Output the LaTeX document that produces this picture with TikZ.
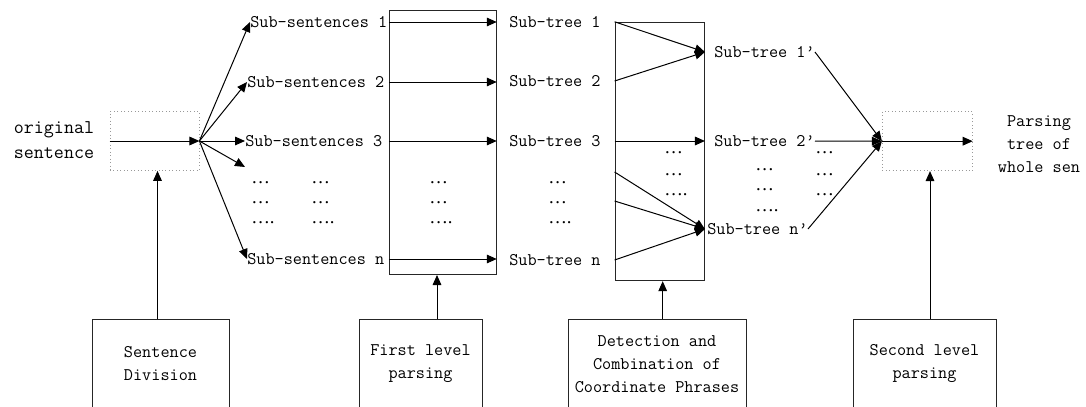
\documentclass[tikz,border=0pt]{standalone}
\usepackage{fontspec}
\newfontfamily\dotfont{Liberation Serif}
\usetikzlibrary{arrows.meta}
\begin{document}
\begin{tikzpicture}[x=0.75pt, y=-0.75pt,
  every node/.style={font=\ttfamily\fontsize{13.3}{17.25}\selectfont},
  lab/.style={inner sep=0pt, text height=8pt, text depth=0pt, anchor=west},
  dots/.style={inner sep=0pt, font=\dotfont\fontsize{14}{17}\selectfont, anchor=base west},
  arr/.style={-{Triangle[length=7.5pt,width=6.5pt]}, line width=0.75pt},
  dotbox/.style={draw=gray!80, dotted, line width=0.6pt, inner sep=0pt, minimum height=44.25pt},
  tallbox/.style={draw=black!85, line width=0.75pt, inner sep=0pt},
  stepbox/.style={draw=black!85, line width=0.75pt, align=center, minimum height=67.5pt, inner sep=2pt}]
\path[use as bounding box, clip] (0,0) rectangle (1086,407);

% left part
\node[align=center, font=\ttfamily\fontsize{14.6}{18.75}\selectfont, inner sep=0pt] (orig) at (54,140.5) {original\\sentence};
\node[dotbox, minimum width=66.75pt] (d1) at (154.5,141) {};
\draw[arr] (d1.west) -- (d1.east);

\node[lab] (ss1) at (250,22) {Sub-sentences 1};
\node[lab] (ss2) at (247,82) {Sub-sentences 2};
\node[lab] (ss3) at (245,141) {Sub-sentences 3};
\node[lab] (ssn) at (247,259) {Sub-sentences n};
\coordinate (ss4) at (245,167);
\draw[arr] (d1.east) -- (ss1.west);
\draw[arr] (d1.east) -- (ss2.west);
\draw[arr] (d1.east) -- (ss3.west);
\draw[arr] (d1.east) -- (ss4);
\draw[arr] (d1.east) -- (ssn.west);

\node[dots] (e1) at (251,183) {…};
\node[dots] (e2) at (251,203) {…};
\node[dots] (e3) at (251,223) {….};
\node[dots] (e4) at (311,183) {…};
\node[dots] (e5) at (311,203) {…};
\node[dots] (e6) at (311,223) {….};

% first level box
\node[tallbox, minimum width=80.25pt, minimum height=198pt] (b1) at (442.75,142.5) {};
\draw[arr] (b1.west |- ss1) -- (b1.east |- ss1);
\draw[arr] (b1.west |- ss2) -- (b1.east |- ss2);
\draw[arr] (b1.west |- ss3) -- (b1.east |- ss3);
\draw[arr] (b1.west |- ssn) -- (b1.east |- ssn);
\node[dots] (e7) at (429,183) {…};
\node[dots] (e8) at (429,203) {…};
\node[dots] (e9) at (429,223) {….};

\node[lab] (st1) at (509,22) {Sub-tree 1};
\node[lab] (st2) at (509,81) {Sub-tree 2};
\node[lab] (st3) at (509,141) {Sub-tree 3};
\node[lab] (stn) at (509,260) {Sub-tree n};
\node[dots] (e10) at (548,183) {…};
\node[dots] (e11) at (548,203) {…};
\node[dots] (e12) at (548,223) {….};

% coordinate box
\node[tallbox, minimum width=67pt, minimum height=193.8pt] (b2) at (659.75,151.5) {};
\node[lab] (st1p) at (714,52) {Sub-tree 1’};
\node[lab] (st2p) at (714,141) {Sub-tree 2’};
\node[lab] (stnp) at (707,229) {Sub-tree n’};
\coordinate (c4) at (615,172);
\coordinate (c5) at (615,201);
\draw[arr] (b2.north west) -- (b2.east |- st1p);
\draw[arr] (b2.west |- st2) -- (b2.east |- st1p);
\draw[arr] (b2.west |- st3) -- (b2.east |- st2p);
\draw[arr] (b2.west |- c4) -- (b2.east |- stnp);
\draw[arr] (b2.west |- c5) -- (b2.east |- stnp);
\draw[arr] (b2.west |- stn) -- (b2.east |- stnp);
\node[dots] (e13) at (664,153) {…};
\node[dots] (e14) at (664,175) {…};
\node[dots] (e15) at (664,195) {….};

\node[dots] (e16) at (755,170) {…};
\node[dots] (e17) at (755,190) {…};
\node[dots] (e18) at (755,211) {….};
\node[dots] (e19) at (815,153) {…};
\node[dots] (e20) at (815,175) {…};
\node[dots] (e21) at (815,195) {…};

% right part
\node[dotbox, minimum width=67.5pt] (d2) at (927.3,141.2) {};
\draw[arr] (st1p.east) -- (d2.west);
\draw[arr] (st2p.east) -- (d2.west);
\draw[arr] (stnp.east) -- (d2.west);
\draw[arr] (d2.west) -- (d2.east);
\node[align=center, inner sep=0pt] (parse) at (1039,144) {Parsing\\tree of\\whole sen};

% bottom boxes
\node[stepbox, minimum width=102.75pt] (sd) at (160.5,364) {Sentence\\Division};
\node[stepbox, minimum width=92.25pt] (fl) at (420.5,364) {First level\\parsing};
\node[stepbox, minimum width=133.5pt] (dc) at (657,364) {Detection and\\Combination of\\Coordinate Phrases};
\node[stepbox, minimum width=107.25pt] (sl) at (924.5,364) {Second level\\parsing};
\coordinate (x1) at (157.5,0);
\coordinate (x2) at (437,0);
\coordinate (x3) at (662.7,0);
\coordinate (x4) at (930,0);
\draw[arr] (x1 |- sd.north) -- (x1 |- d1.south);
\draw[arr] (x2 |- fl.north) -- (x2 |- b1.south);
\draw[arr] (x3 |- dc.north) -- (x3 |- b2.south);
\draw[arr] (x4 |- sl.north) -- (x4 |- d2.south);
\end{tikzpicture}
\end{document}
